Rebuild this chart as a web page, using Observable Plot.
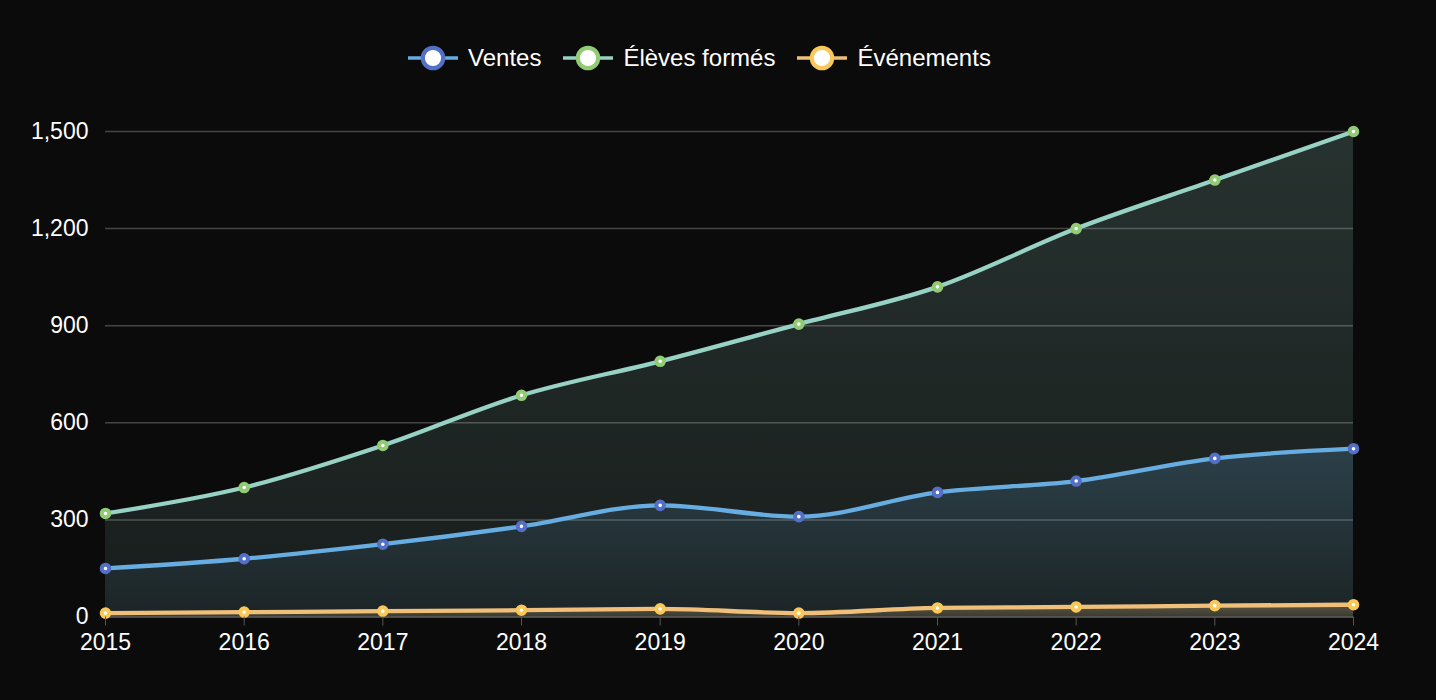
<!DOCTYPE html>
<html>
<head>
<meta charset="utf-8">
<script src="https://cdn.jsdelivr.net/npm/d3@7"></script>
<script src="https://cdn.jsdelivr.net/npm/@observablehq/plot@0.6"></script>
<style>
  html, body { margin: 0; padding: 0; background: #0b0b0b; }
  body { width: 1436px; height: 700px; overflow: hidden; font-family: "Liberation Sans", Arial, Helvetica, sans-serif; color: #fff; }
  #legend { height: 100px; position: relative; }
  #legend .inner { position: absolute; left: 408px; top: 42px; display: flex; gap: 22px; }
  #legend .item { display: flex; align-items: center; font-size: 24px; height: 32px; }
  #legend .item svg { margin-right: 10px; }
</style>
</head>
<body>
<div id="legend"><div class="inner"></div></div>
<div id="chart"></div>
<script>
const years = [2015, 2016, 2017, 2018, 2019, 2020, 2021, 2022, 2023, 2024];
const ventes = [150, 180, 225, 280, 345, 310, 385, 420, 490, 520];
const eleves = [320, 400, 530, 685, 790, 905, 1020, 1200, 1350, 1500];
const evenements = [12, 15, 18, 21, 25, 12, 28, 31, 35, 38];
const seriesNames = ["Ventes", "Élèves formés", "Événements"];
const lineColors = ["#68ade2", "#98d2c4", "#f0c07a"];
const markerColors = ["#5470c6", "#91cc75", "#fac858"];
const yTicks = [0, 300, 600, 900, 1200, 1500];

const seriesValues = [ventes, eleves, evenements];
const series = seriesNames.map((name, i) => ({
  name,
  id: "g" + i,
  line: lineColors[i],
  marker: markerColors[i],
  data: years.map((year, j) => ({ year, value: seriesValues[i][j] }))
}));

// Legend (HTML)
const inner = document.querySelector("#legend .inner");
series.forEach(s => {
  const item = document.createElement("div");
  item.className = "item";
  item.innerHTML = `<svg width="50" height="30"><line x1="0" y1="15" x2="50" y2="15" stroke="${s.line}" stroke-width="3.5"/><circle cx="25" cy="15" r="10.2" fill="#fff" stroke="${s.marker}" stroke-width="4.2"/></svg><span>${s.name}</span>`;
  inner.appendChild(item);
});

const gradStops = { g0: [0.2, 0.05], g1: [0.2, 0.09], g2: [0.3, 0.15] };

const defs = () => {
  const d = d3.create("svg:defs");
  series.forEach(s => {
    const g = d.append("linearGradient").attr("id", s.id).attr("x1", 0).attr("y1", 0).attr("x2", 0).attr("y2", 1);
    g.append("stop").attr("offset", "0%").attr("stop-color", s.line).attr("stop-opacity", gradStops[s.id][0]);
    g.append("stop").attr("offset", "100%").attr("stop-color", s.line).attr("stop-opacity", gradStops[s.id][1]);
  });
  return d.node();
};

const order = [1, 0, 2];
const marks = [defs, Plot.gridY(yTicks, { stroke: "#454545", strokeOpacity: 1, strokeWidth: 1.5 })];
order.forEach(i => {
  const s = series[i];
  marks.push(Plot.areaY(s.data, { x: "year", y: "value", fill: `url(#${s.id})`, curve: "monotone-x" }));
});
marks.push(Plot.ruleY([0], { stroke: "#555", strokeWidth: 1.5 }));
order.forEach(i => {
  const s = series[i];
  marks.push(Plot.lineY(s.data, { x: "year", y: "value", stroke: s.line, strokeWidth: 4.3, curve: "monotone-x" }));
});
order.forEach(i => {
  const s = series[i];
  marks.push(Plot.dot(s.data, { x: "year", y: "value", r: 3.8, fill: "#fff", stroke: s.marker, strokeWidth: 4 }));
});
marks.push(Plot.axisX({ ticks: years, tickFormat: d => String(d), tickSize: 9, tickPadding: 8, stroke: "#555", fill: "#fff", fontSize: 23, label: null }));
marks.push(Plot.axisY({ ticks: yTicks, tickFormat: d3.format(","), tickSize: 0, tickPadding: 17, fill: "#fff", fontSize: 23, label: null }));

const chart = Plot.plot({
  width: 1436,
  height: 600,
  marginTop: 31,
  marginBottom: 83.5,
  marginLeft: 105,
  marginRight: 83,
  style: { background: "transparent", color: "#fff", fontFamily: "'Liberation Sans', Arial, Helvetica, sans-serif", fontSize: "23px", overflow: "visible" },
  x: { domain: [2015, 2024], label: null },
  y: { domain: [0, 1500], label: null },
  marks
});
document.getElementById("chart").appendChild(chart);
</script>
</body>
</html>
